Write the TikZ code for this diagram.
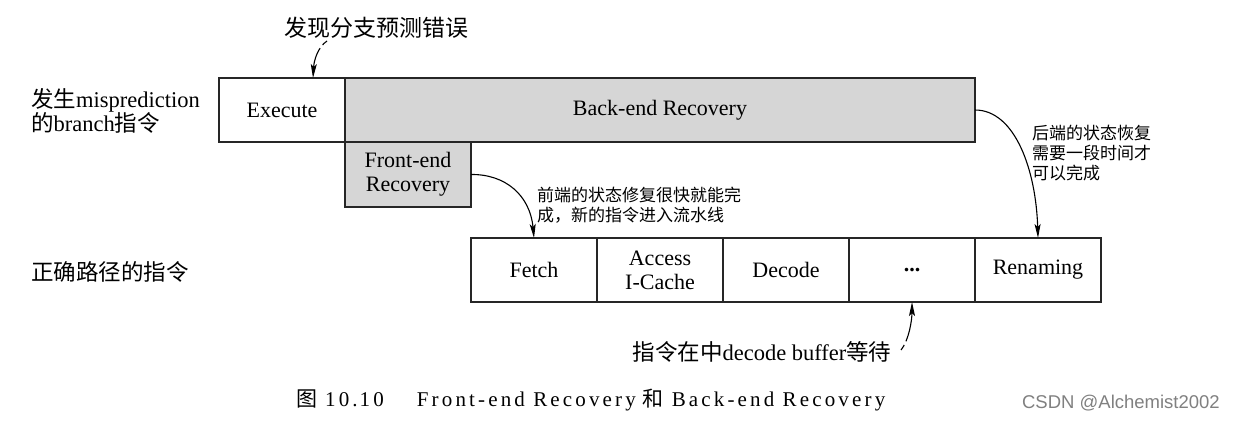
\documentclass[tikz,border=0pt]{standalone}
\usepackage{fontspec}
\setmainfont{Liberation Serif}
\setsansfont{Liberation Sans}
\newfontfamily\cjk{Noto Sans CJK SC}
\newfontfamily\capfont[LetterSpace=15]{Liberation Serif}
\newfontfamily\capcjk{Noto Sans CJK SC}
\usetikzlibrary{arrows.meta}
\newcommand\zhtxt[1]{{\cjk #1}}
\tikzset{
 stage/.style={draw=black!85, line width=1.2pt, minimum width=126pt, minimum height=64pt, inner sep=0pt, outer sep=0pt, align=center, font=\fontsize{22}{24}\selectfont, anchor=north west},
 greybox/.style={stage, fill=black!16},
 lbl/.style={font=\fontsize{22.5}{23}\selectfont, align=left, anchor=west, inner sep=0pt},
 note/.style={font=\cjk\fontsize{17}{20}\selectfont, align=left, anchor=west, inner sep=0pt},
 arr/.style={line width=1.1pt, -{Stealth[length=14pt,width=6pt,inset=3pt]}},
 dasharr/.style={arr, dash pattern=on 6pt off 4pt on 80pt},
}
\begin{document}
\begin{tikzpicture}[x=1pt,y=-1pt]
\useasboundingbox (0,0) rectangle (1236,429);
\node[stage] (ex) at (219,78) {Execute};
\node[greybox, minimum width=630pt] (be) at (345,78) {Back-end Recovery};
\node[greybox, minimum height=65pt] (fe) at (345,142) {Front-end\\Recovery};
\node[stage] (fetch) at (471,238) {Fetch};
\node[stage] (acc) at (597,238) {Access\\I-Cache};
\node[stage] (dec) at (723,238) {Decode};
\node[stage] (dots) at (849,238) {\textbf{...}};
\node[stage] (ren) at (975,238) {Renaming};

\draw[arr] (fe.east) .. controls (505,174) and (530,195) .. (fetch.north);
\draw[arr] (be.east) .. controls (1015,110) and (1036,170) .. (ren.north);

\coordinate (t1) at (327,41);
\draw[dasharr] (t1) .. controls (318,47) and (314,60) .. ([xshift=31pt]ex.north);
\coordinate (b1) at (901,350);
\draw[dasharr] (b1) .. controls (909,340) and (912,320) .. (dots.south);

\node[lbl] (mis) at (31,111) {\zhtxt{发生}misprediction\\\zhtxt{的}branch\zhtxt{指令}};
\node[lbl] (cor) at (31,272) {\zhtxt{正确路径的指令}};
\node[note] (n1) at (537,205) {前端的状态修复很快就能完\\成，新的指令进入流水线};
\node[note] (n2) at (1032,153) {后端的状态恢复\\需要一段时间才\\可以完成};
\node[font=\cjk\fontsize{23}{24}\selectfont, inner sep=0pt] (find) at (376,28) {发现分支预测错误};
\node[lbl, anchor=center] (wait) at (762,352) {\zhtxt{指令在中}decode buffer\zhtxt{等待}};
\node[anchor=west, inner sep=0pt, font=\fontsize{21}{22}\selectfont] (cap) at (296,400) {{\capcjk 图}\hspace{8pt}{\capfont 10.\hspace{2pt}10}\hspace{33pt}{\capfont Front-end Recovery}\hspace{7pt}{\capcjk 和}\hspace{8pt}{\capfont Back-end Recovery}};
\node[anchor=east, inner sep=0pt, font=\sffamily\fontsize{18.5}{20}\selectfont, text=black!50] (csdn) at (1220,403) {CSDN @Alchemist2002};
\end{tikzpicture}
\end{document}
